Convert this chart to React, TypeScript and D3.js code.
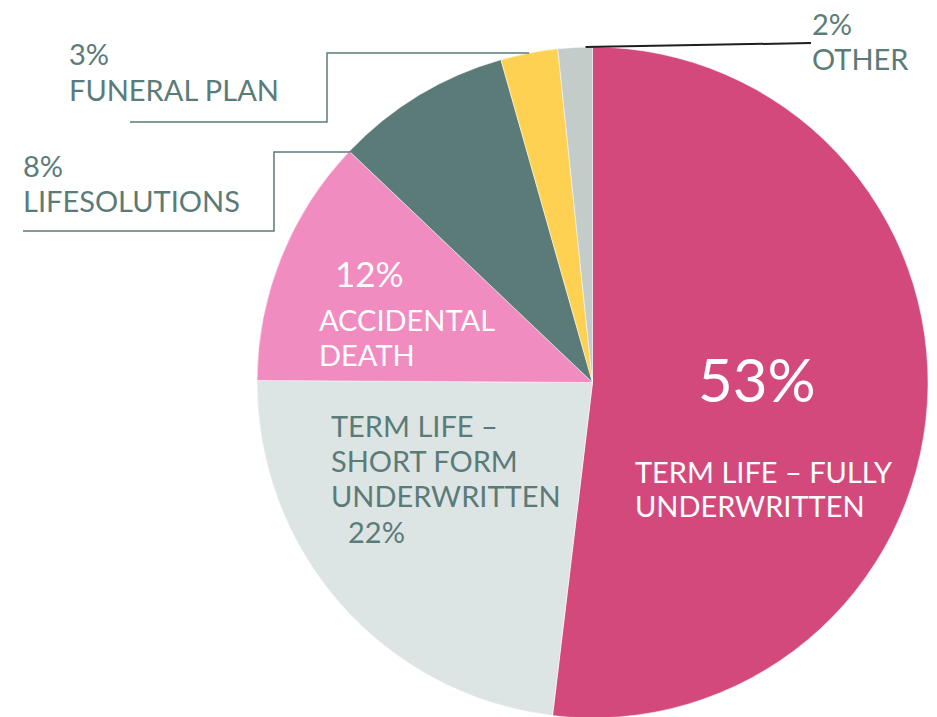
import * as d3 from 'd3';

const categories = [
  'TERM LIFE – FULLY UNDERWRITTEN',
  'TERM LIFE – SHORT FORM UNDERWRITTEN',
  'ACCIDENTAL DEATH',
  'LIFESOLUTIONS',
  'FUNERAL PLAN',
  'OTHER',
];
const shares = [51.9, 23.2, 12.0, 8.5, 2.75, 1.65];
const percentLabels = ['53%', '22%', '12%', '8%', '3%', '2%'];
const COLORS = ['#d4497c', '#dde5e4', '#f08cbf', '#5b7b79', '#fed153', '#c4ccca'];

const W = 937;
const H = 717;
const CX = 592.5;
const CY = 382.5;
const R = 335.5;
const TEAL = '#5b7b79';
const FONT = 'Lato, "Open Sans", sans-serif';
const FS = 29;

type Line = { text: string; x: number; y: number; size: number };
// text blocks per slice (index into categories)
const LAYOUT: { i: number; fill: string; lines: Line[] }[] = [
  {
    i: 0,
    fill: '#fff',
    lines: [
      { text: percentLabels[0], x: 698, y: 402, size: 60 },
      { text: 'TERM LIFE – FULLY', x: 635, y: 483, size: FS },
      { text: 'UNDERWRITTEN', x: 635, y: 517, size: FS },
    ],
  },
  {
    i: 1,
    fill: TEAL,
    lines: [
      { text: 'TERM LIFE –', x: 331, y: 437, size: FS },
      { text: 'SHORT FORM', x: 331, y: 472, size: FS },
      { text: 'UNDERWRITTEN', x: 331, y: 507, size: FS },
      { text: percentLabels[1], x: 348, y: 543, size: FS },
    ],
  },
  {
    i: 2,
    fill: '#fff',
    lines: [
      { text: percentLabels[2], x: 335, y: 287, size: 35 },
      { text: 'ACCIDENTAL', x: 319, y: 331, size: FS },
      { text: 'DEATH', x: 319, y: 366, size: FS },
    ],
  },
  {
    i: 3,
    fill: TEAL,
    lines: [
      { text: percentLabels[3], x: 23, y: 177, size: FS },
      { text: categories[3], x: 23, y: 212, size: FS },
    ],
  },
  {
    i: 4,
    fill: TEAL,
    lines: [
      { text: percentLabels[4], x: 69, y: 65, size: FS },
      { text: categories[4], x: 69, y: 101, size: FS },
    ],
  },
  {
    i: 5,
    fill: TEAL,
    lines: [
      { text: percentLabels[5], x: 812, y: 35, size: FS },
      { text: categories[5], x: 812, y: 70, size: FS },
    ],
  },
];

export default function App() {
  const pie = d3
    .pie<number>()
    .sort(null)
    .startAngle(0)
    .endAngle(2 * Math.PI)
    .value((d) => d);
  const arcs = pie(shares);
  const arc = d3.arc<d3.PieArcDatum<number>>().innerRadius(0).outerRadius(R);

  const edge = (i: number, frac: number): [number, number] => {
    const a = arcs[i].startAngle + frac * (arcs[i].endAngle - arcs[i].startAngle);
    return [CX + R * Math.sin(a), CY - R * Math.cos(a)];
  };

  // leader lines
  const [ox, oy] = edge(5, 0.8);
  const [fx, fy] = edge(4, 0.5);
  const [lx, ly] = edge(3, 0.01);
  const line = d3.line();
  const leaders = [
    { d: line([[ox, oy], [811, 43]]), stroke: '#1e1e1e', w: 2 },
    { d: line([[fx, fy], [327, fy], [327, 122], [130, 122]]), stroke: TEAL, w: 1.5 },
    { d: line([[lx, ly + 2], [274, ly + 2], [274, 231], [23, 231]]), stroke: TEAL, w: 1.5 },
  ];

  return (
    <svg
      width={W}
      height={H}
      style={{ position: 'absolute', left: 0, top: 0, background: '#fff' }}
      fontFamily={FONT}
    >
      <g transform={`translate(${CX},${CY})`}>
        {arcs.map((a, i) => (
          <path key={categories[i]} d={arc(a) || ''} fill={COLORS[i]} stroke="#fff" strokeWidth={0.5} />
        ))}
      </g>
      {leaders.map((l, i) => (
        <path key={i} d={l.d || ''} fill="none" stroke={l.stroke} strokeWidth={l.w} />
      ))}
      {LAYOUT.map((b) =>
        b.lines.map((ln, j) => (
          <text key={`${b.i}-${j}`} x={ln.x} y={ln.y} fontSize={ln.size} fill={b.fill}>
            {ln.text}
          </text>
        ))
      )}
    </svg>
  );
}
